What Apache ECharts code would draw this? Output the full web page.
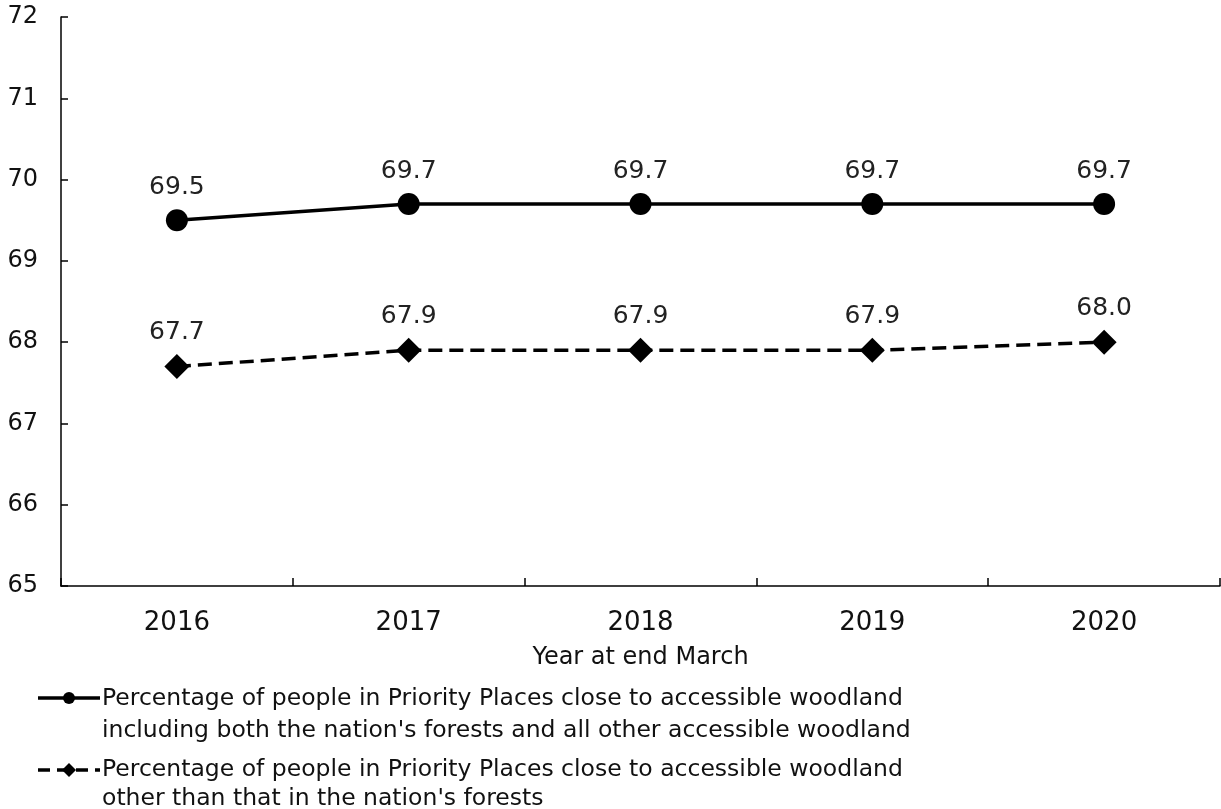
<!DOCTYPE html>
<html>
<head>
<meta charset="utf-8">
<script src="https://cdn.jsdelivr.net/npm/echarts@6/dist/echarts.min.js"></script>
<style>
html,body{margin:0;padding:0;background:#fff;}
#c{width:1221px;height:809px;}
</style>
</head>
<body>
<div id="c"></div>
<script>
const years = ['2016','2017','2018','2019','2020'];
const allWoodland = [69.5, 69.7, 69.7, 69.7, 69.7];
const otherWoodland = [67.7, 67.9, 67.9, 67.9, 68.0];
const seriesNames = [
  "Percentage of people in Priority Places close to accessible woodland\nincluding both the nation's forests and all other accessible woodland",
  "Percentage of people in Priority Places close to accessible woodland\nother than that in the nation's forests"
];
const xAxisName = 'Year at end March';
const yMin = 65, yMax = 72, yStep = 1;

const FONT = 'DejaVu Sans';
const chart = echarts.init(document.getElementById('c'));
const labelStyle = {show:true, position:'top', distance:9, fontFamily:FONT, fontSize:25, color:'#222',
  formatter: p => p.value.toFixed(1)};
chart.setOption({
  animation:false,
  grid:{left:61, right:1, top:17, bottom:223, containLabel:false},
  xAxis:{type:'category', data:years, boundaryGap:true,
    name:xAxisName, nameLocation:'middle', nameGap:60,
    nameTextStyle:{fontFamily:FONT, fontSize:24, color:'#111'},
    axisLine:{lineStyle:{color:'#000', width:1.5}},
    axisTick:{show:true, inside:true, length:8, lineStyle:{color:'#000', width:1.5}},
    axisLabel:{fontFamily:FONT, fontSize:26, color:'#111', margin:24}},
  yAxis:{type:'value', min:yMin, max:yMax, interval:yStep,
    splitLine:{show:false},
    axisLine:{show:true, lineStyle:{color:'#000', width:1.5}},
    axisTick:{show:true, inside:true, length:7, lineStyle:{color:'#000', width:1.5}},
    axisLabel:{fontFamily:FONT, fontSize:24, color:'#111', margin:23}},
  series:[
    {name:seriesNames[0], type:'line', data:allWoodland, symbol:'circle', symbolSize:22,
     itemStyle:{color:'#000'}, lineStyle:{color:'#000', width:3.5}, label:labelStyle},
    {name:seriesNames[1], type:'line', data:otherWoodland, symbol:'diamond', symbolSize:[25,25],
     itemStyle:{color:'#000'}, lineStyle:{color:'#000', width:3.5, type:[14,7]}, label:labelStyle}
  ],
  graphic:[
    {type:'line', shape:{x1:38,y1:698,x2:100,y2:698}, style:{stroke:'#000', lineWidth:3.5}},
    {type:'circle', shape:{cx:69,cy:698,r:6}, style:{fill:'#000'}},
    {type:'text', left:102, top:683, style:{text:seriesNames[0], fontFamily:FONT, fontSize:23.5, lineHeight:32, fill:'#111'}},
    {type:'line', shape:{x1:38,y1:770,x2:100,y2:770}, style:{stroke:'#000', lineWidth:3.5, lineDash:[12,7]}},
    {type:'polygon', shape:{points:[[69,763],[76,770],[69,777],[62,770]]}, style:{fill:'#000'}},
    {type:'text', left:102, top:755, style:{text:seriesNames[1], fontFamily:FONT, fontSize:23.5, lineHeight:29, fill:'#111'}}
  ]
});
</script>
</body>
</html>
